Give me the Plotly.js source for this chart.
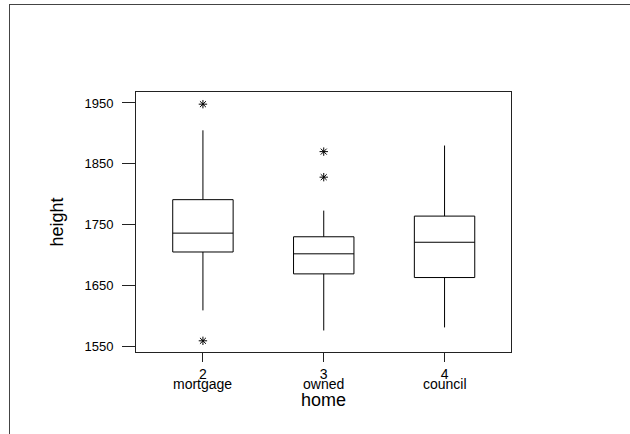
<!DOCTYPE html>
<html>
<head>
<meta charset="utf-8">
<script src="https://cdn.plot.ly/plotly-3.0.1.min.js"></script>
<style>
html,body{margin:0;padding:0;background:#fff;}
#wrap{position:relative;width:630px;height:434px;overflow:hidden;}
#frame{position:absolute;left:9px;top:4px;width:700px;height:500px;border-left:1px solid #444;border-top:1px solid #444;pointer-events:none;z-index:5;}
#chart{position:absolute;left:0;top:0;width:630px;height:434px;}
</style>
</head>
<body>
<div id="wrap"><div id="chart"></div><div id="frame"></div></div>
<script>
// Data
var codes = [2, 3, 4];
var categories = ["mortgage", "owned", "council"];
var lowerWhisker = [1609, 1576, 1581];
var q1 = [1705, 1669, 1663];
var medians = [1736, 1702, 1721];
var q3 = [1791, 1730, 1764];
var upperWhisker = [1905, 1773, 1880];
var outlierCode = [2, 2, 3, 3];
var outlierHeight = [1948, 1559, 1870, 1828];
var yTicks = [1550, 1650, 1750, 1850, 1950];

var font = "Liberation Sans, Arial, sans-serif";

var traces = [
  {
    type: "box",
    x: codes,
    q1: q1,
    median: medians,
    q3: q3,
    lowerfence: lowerWhisker,
    upperfence: upperWhisker,
    width: 0.5,
    boxpoints: false,
    fillcolor: "rgba(255,255,255,0)",
    line: {color: "#000", width: 1},
    whiskerwidth: 0,
    hoverinfo: "skip",
    showlegend: false
  },
  {
    type: "scatter",
    mode: "markers",
    x: outlierCode,
    y: outlierHeight,
    marker: {symbol: "asterisk-open", size: 7, color: "#000", line: {color: "#000", width: 1}},
    showlegend: false
  }
];

var annotations = categories.map(function (c, i) {
  return {
    x: codes[i], xref: "x", y: 0, yref: "paper",
    yanchor: "top", xanchor: "center", yshift: -22,
    text: c, showarrow: false,
    font: {family: font, size: 14, color: "#000"}
  };
});

var layout = {
  width: 630, height: 434,
  margin: {l: 136, r: 119, t: 92, b: 82},
  paper_bgcolor: "#fff", plot_bgcolor: "#fff",
  font: {family: font, color: "#000"},
  showlegend: false,
  xaxis: {
    range: [1.446, 4.55],
    tickmode: "array", tickvals: codes, ticktext: codes.map(String),
    ticks: "outside", ticklen: 9, tickcolor: "#222", tickwidth: 1,
    showline: true, linecolor: "#222", linewidth: 1, mirror: true,
    showgrid: false, zeroline: false,
    tickfont: {family: font, size: 14, color: "#000"},
    title: {text: "home", font: {family: font, size: 18, color: "#000"}, standoff: 12},
    automargin: false
  },
  yaxis: {
    range: [1540.6, 1968],
    tickmode: "array", tickvals: yTicks, ticktext: yTicks.map(String),
    ticks: "outside", ticklen: 13, tickcolor: "#222", tickwidth: 1,
    ticklabelstandoff: 6,
    showline: true, linecolor: "#222", linewidth: 1, mirror: true,
    showgrid: false, zeroline: false,
    tickfont: {family: font, size: 13, color: "#000"},
    title: {text: "height", font: {family: font, size: 18, color: "#000"}, standoff: 16},
    automargin: false
  },
  annotations: annotations
};

Plotly.newPlot("chart", traces, layout, {displayModeBar: false, staticPlot: true});
</script>
</body>
</html>
